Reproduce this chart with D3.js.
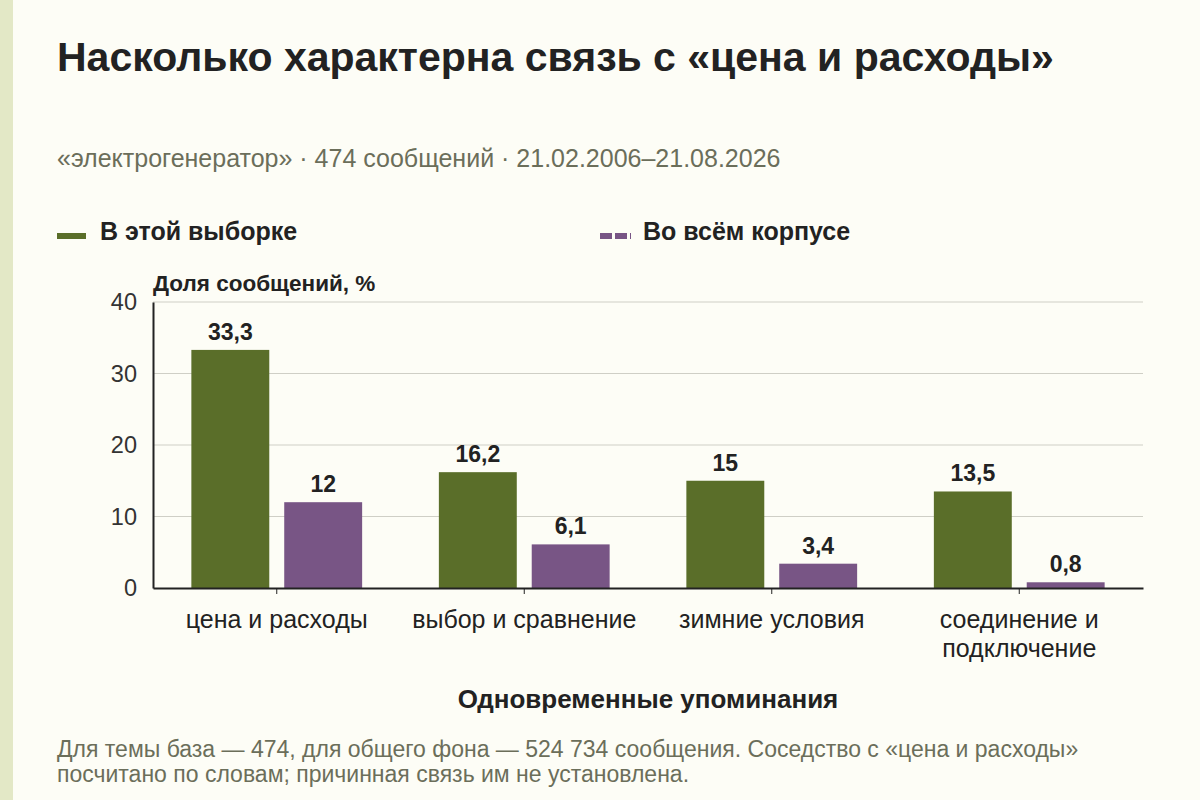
<!DOCTYPE html>
<html>
<head>
    <meta charset="utf-8">
    <title>Связь с «цена и расходы»</title>
    <script src="https://d3js.org/d3.v7.min.js"></script>
    <style>
        body { margin: 0; background: #fdfdf6; }
        svg { display: block; font-family: "Liberation Sans", Arial, sans-serif; }
    </style>
</head>
<body>
<div id="chart"></div>
<script>
    // categories and values (percent of messages)
    const categories = ["цена и расходы", "выбор и сравнение", "зимние условия", "соединение и подключение"];
    const sampleValues = [33.3, 16.2, 15, 13.5];
    const corpusValues = [12, 6.1, 3.4, 0.8];
    const seriesNames = ["В этой выборке", "Во всём корпусе"];
    const yTicks = [0, 10, 20, 30, 40];

    const W = 1200, H = 800;
    const plot = {left: 153, right: 1143, top: 302, bottom: 588};
    const colors = ["#5a6e29", "#785585"];

    const svg = d3.select("#chart").append("svg")
        .attr("width", W).attr("height", H);

    svg.append("rect").attr("width", W).attr("height", H).attr("fill", "#fdfdf6");
    // left accent stripe
    svg.append("rect").attr("width", 13).attr("height", H).attr("fill", "#e3e8c6");

    // title & subtitle
    svg.append("text").attr("x", 57).attr("y", 71)
        .attr("font-size", 41).attr("font-weight", "bold").attr("fill", "#222")
        .text("Насколько характерна связь с «цена и расходы»");
    svg.append("text").attr("x", 57).attr("y", 167)
        .attr("font-size", 25).attr("fill", "#6b6e5a")
        .text("«электрогенератор» · 474 сообщений · 21.02.2006–21.08.2026");

    // legend
    const legend = svg.append("g");
    legend.append("line").attr("x1", 57).attr("x2", 86).attr("y1", 236).attr("y2", 236)
        .attr("stroke", colors[0]).attr("stroke-width", 6);
    legend.append("text").attr("x", 100).attr("y", 240)
        .attr("font-size", 25).attr("font-weight", "bold").attr("fill", "#222")
        .text(seriesNames[0]);
    legend.append("line").attr("x1", 600).attr("x2", 631).attr("y1", 236).attr("y2", 236)
        .attr("stroke", colors[1]).attr("stroke-width", 6).attr("stroke-dasharray", "12,3");
    legend.append("text").attr("x", 643).attr("y", 240)
        .attr("font-size", 25).attr("font-weight", "bold").attr("fill", "#222")
        .text(seriesNames[1]);

    // scales
    const x = d3.scaleBand()
        .domain(categories)
        .range([plot.left, plot.right])
        .paddingInner(0.31)
        .paddingOuter(0.155);
    const xSub = d3.scaleBand()
        .domain([0, 1])
        .range([0, x.bandwidth()])
        .paddingInner(0.161);
    const y = d3.scaleLinear()
        .domain([0, 40])
        .range([plot.bottom, plot.top]);

    // grid lines
    svg.append("g")
        .selectAll("line")
        .data(yTicks.filter(t => t > 0))
        .join("line")
        .attr("x1", plot.left).attr("x2", plot.right)
        .attr("y1", d => y(d)).attr("y2", d => y(d))
        .attr("stroke", "#cfcfc6").attr("stroke-width", 1);

    // y axis
    const yAxis = svg.append("g")
        .attr("transform", `translate(${plot.left},0)`)
        .call(d3.axisLeft(y).tickValues(yTicks).tickSize(0).tickPadding(16));
    yAxis.select(".domain").attr("stroke", "#222").attr("stroke-width", 2);
    yAxis.selectAll("text").attr("font-size", 23.5).attr("fill", "#333")
        .attr("font-family", "Liberation Sans, Arial, sans-serif");

    svg.append("text").attr("x", plot.left).attr("y", 291)
        .attr("font-size", 22.5).attr("font-weight", "bold").attr("fill", "#222")
        .text("Доля сообщений, %");

    // bars
    const rows = categories.map((c, i) => ({cat: c, values: [sampleValues[i], corpusValues[i]]}));
    const groups = svg.append("g")
        .selectAll("g")
        .data(rows)
        .join("g")
        .attr("transform", d => `translate(${x(d.cat)},0)`);

    groups.selectAll("rect")
        .data(d => d.values.map((v, k) => ({k: k, v: v})))
        .join("rect")
        .attr("x", d => xSub(d.k))
        .attr("y", d => y(d.v))
        .attr("width", xSub.bandwidth())
        .attr("height", d => y(0) - y(d.v))
        .attr("fill", d => colors[d.k]);

    groups.selectAll("text.val")
        .data(d => d.values.map((v, k) => ({k: k, v: v})))
        .join("text")
        .attr("class", "val")
        .attr("x", d => xSub(d.k) + xSub.bandwidth() / 2)
        .attr("y", d => y(d.v) - 10)
        .attr("text-anchor", "middle")
        .attr("font-size", 23).attr("font-weight", "bold").attr("fill", "#222")
        .text(d => String(d.v).replace(".", ","));

    // x axis
    const xAxis = svg.append("g")
        .attr("transform", `translate(0,${plot.bottom})`)
        .call(d3.axisBottom(x).tickSize(6).tickSizeOuter(0).tickFormat(""));
    xAxis.select(".domain").attr("stroke", "#222").attr("stroke-width", 2);
    xAxis.selectAll(".tick line").attr("stroke", "#222").attr("stroke-width", 1);

    // category labels, wrapped
    const wrapped = {"соединение и подключение": ["соединение и", "подключение"]};
    svg.append("g")
        .selectAll("text")
        .data(categories)
        .join("text")
        .attr("x", d => x(d) + x.bandwidth() / 2)
        .attr("y", 628)
        .attr("text-anchor", "middle")
        .attr("font-size", 25).attr("fill", "#222")
        .each(function (d) {
            const lines = wrapped[d] || [d];
            d3.select(this).selectAll("tspan")
                .data(lines)
                .join("tspan")
                .attr("x", x(d) + x.bandwidth() / 2)
                .attr("dy", (l, i) => i === 0 ? 0 : 29)
                .text(l => l);
        });

    svg.append("text").attr("x", 648).attr("y", 708)
        .attr("text-anchor", "middle")
        .attr("font-size", 26).attr("font-weight", "bold").attr("fill", "#222")
        .text("Одновременные упоминания");

    // footer note
    const note = svg.append("text").attr("x", 57).attr("y", 757)
        .attr("font-size", 23).attr("fill", "#6b6e5a");
    note.append("tspan").attr("x", 57).text("Для темы база — 474, для общего фона — 524 734 сообщения. Соседство с «цена и расходы»");
    note.append("tspan").attr("x", 57).attr("dy", 25).text("посчитано по словам; причинная связь им не установлена.");
</script>
</body>
</html>
